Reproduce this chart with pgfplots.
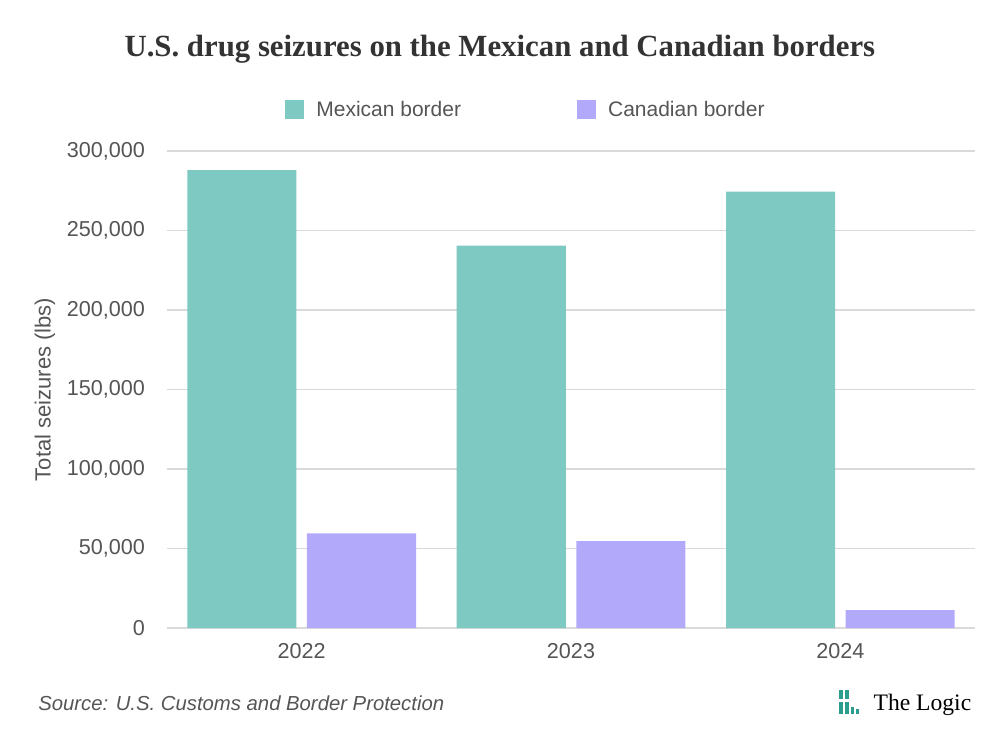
\documentclass[border=0pt]{standalone}
\usepackage{pgfplots}
\pgfplotsset{compat=1.18}
\usepackage{fontspec}
\setmainfont{Liberation Sans}
\newfontfamily\titlefont{Liberation Serif}
\definecolor{mexcol}{HTML}{7ECAC3}
\definecolor{cancol}{HTML}{B3A9FB}
\definecolor{txtcol}{HTML}{555555}
\definecolor{gridcol}{HTML}{D9D9D9}
\definecolor{logocol}{HTML}{2A9D8F}
\definecolor{titlecol}{HTML}{333333}
\begin{document}
\begin{tikzpicture}
\path (-83.5pt,-53pt) rectangle (416.5pt,314pt);
\begin{axis}[
  at={(0pt,0pt)}, anchor=south west,
  scale only axis, width=404pt, height=238.5pt,
  ymin=0, ymax=300000, xmin=-0.5, xmax=2.5,
  ybar, bar width=0.405,
  xtick={0,1,2}, xticklabels={2022,2023,2024},
  ytick={0,50000,100000,150000,200000,250000,300000},
  ymajorgrids, grid style={gridcol, line width=0.8pt},
  axis line style={draw=none}, major tick length=0pt,
  scaled y ticks=false,
  /pgf/number format/.cd, fixed, 1000 sep={,}, assume math mode=true,
  /pgfplots/.cd,
  tick label style={font=\fontsize{10.8}{12}\selectfont, text=txtcol},
  xticklabel style={yshift=-4pt},
  yticklabel style={xshift=-7.5pt},
  ylabel={Total seizures (lbs)},
  ylabel style={at={(rel axis cs:-0.151,0.5)}, anchor=center, font=\fontsize{11}{12}\selectfont, text=txtcol},
  legend style={at={(rel axis cs:0.1386,1.086)}, anchor=west, draw=none, fill=none,
    font=\fontsize{10.5}{12}\selectfont, text=txtcol,
    /tikz/every even column/.append style={column sep=56pt}},
  legend columns=2,
  legend image code/.code={\fill[#1,draw=none] (0pt,-4.75pt) rectangle (9.5pt,4.75pt); \path (13.5pt,0pt);},
  clip=false,
]
\addplot[fill=mexcol, draw=none, bar shift=-0.222] coordinates {(0,288000) (1,240500) (2,274500)};
\addplot[fill=cancol, draw=none, bar shift=0.222] coordinates {(0,59500) (1,54700) (2,11300)};
\legend{Mexican border, Canadian border}
\node[font=\titlefont\bfseries\fontsize{15.4}{17}\selectfont, text=titlecol] at (rel axis cs:0.412,1.214) {U.S. drug seizures on the Mexican and Canadian borders};
\node[anchor=west, font=\itshape\fontsize{10.15}{12}\selectfont, text=txtcol, inner sep=0pt] at (rel axis cs:-0.1597,-0.157) {Source: U.S. Customs and Border Protection};
\node[anchor=west, font=\titlefont\fontsize{11.8}{13}\selectfont, text=black, inner sep=0pt] at (rel axis cs:0.874,-0.161) {The Logic};
\end{axis}
\fill[logocol] (336pt,-31pt) rectangle (338pt,-35.5pt);
\fill[logocol] (336pt,-37pt) rectangle (338pt,-43pt);
\fill[logocol] (339pt,-31pt) rectangle (341pt,-35.5pt);
\fill[logocol] (339pt,-37pt) rectangle (341pt,-43pt);
\fill[logocol] (342pt,-39.65pt) rectangle (343.5pt,-43pt);
\fill[logocol] (344.5pt,-40.65pt) rectangle (346.2pt,-43pt);
\end{tikzpicture}
\end{document}
